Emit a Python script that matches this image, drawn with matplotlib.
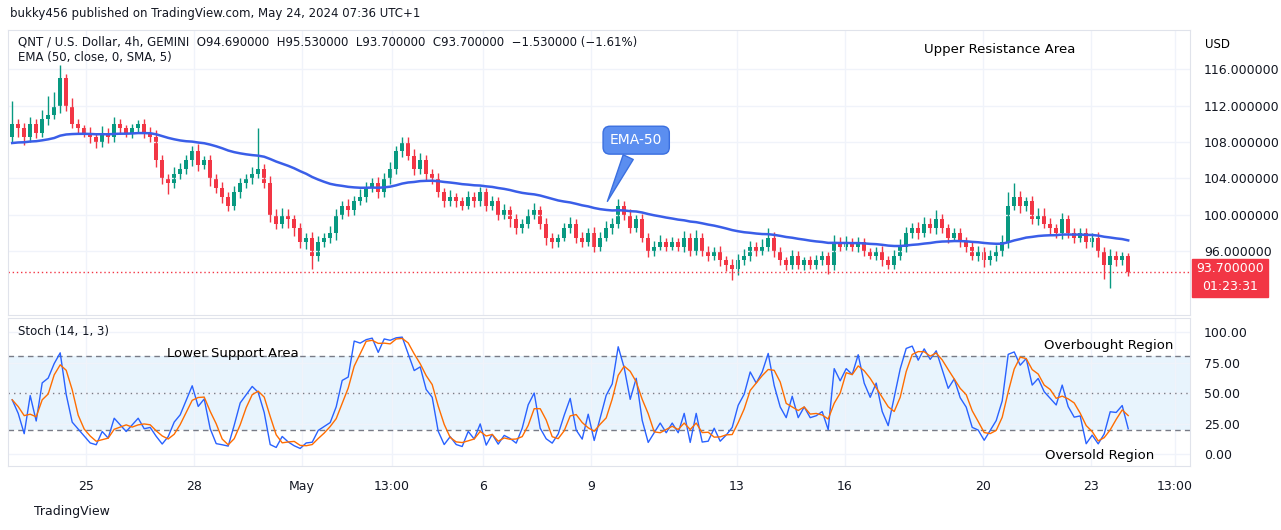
import numpy as np
import pandas as pd
import matplotlib.pyplot as plt

# closes per 4h candle
closes = [110, 109.5, 108.5, 110, 109, 110.5, 111, 112, 115, 112,
          110, 109.5, 109, 108.5, 108, 109, 108.5, 110, 109.5, 109,
          109.5, 110, 109, 108.5, 106, 104, 103.5, 104.5, 105, 106,
          107, 105.5, 106, 104, 103, 102, 101, 102.5, 103.5, 104,
          104.5, 105, 103.5, 100, 99, 100, 99.5, 98.5, 97, 97.5,
          95.5, 97, 97.5, 98, 100, 101, 100.5, 101.5, 102, 103,
          103.5, 102.5, 104, 105, 107, 108, 106.5, 105, 106, 104.5,
          104, 102.5, 101.5, 102, 101.5, 101, 102, 101.5, 102.5, 101,
          101.5, 100, 100.5, 99.5, 98.5, 99, 100, 100.5, 99, 97.5,
          97, 97.5, 98.5, 99, 97.5, 97, 98, 96.5, 97.5, 98.5,
          99, 101, 100, 98.5, 99.5, 97.5, 96, 96.5, 97, 96.5,
          97, 96.5, 97.5, 96, 97.5, 96, 95.5, 96, 95, 94.5,
          94, 95, 95.5, 96.5, 96, 96.5, 97.5, 96, 95, 94.5,
          95.5, 94.5, 95, 94.5, 95, 95.5, 94.5, 97, 96.5, 97,
          96.5, 97, 96, 95.5, 96, 95, 94.5, 95.5, 96.5, 98,
          98.5, 98, 99, 98.5, 99.5, 98.5, 97.5, 98, 97, 96.5,
          95.5, 96, 95, 95.5, 96, 97, 101, 102, 101, 101.5,
          99.5, 100, 99, 98.5, 98, 99.5, 98, 97.5, 98, 97,
          97.5, 96, 94.5, 95.5, 95, 95.5, 93.7]
first_open = 108.5
ema_seed = 107.8  # EMA-50 value just before the first visible candle
# wick lengths above max(open, close) and below min(open, close)
upper_wick = [2.5, 0.5, 0.6, 0.8, 0.5, 1.0, 2.0, 1.5, 1.5, 0.5,
              0.8, 0.5, 0.4, 0.6, 0.5, 0.8, 0.5, 0.7, 0.5, 0.4,
              0.5, 0.4, 0.5, 0.6, 0.8, 0.6, 0.5, 0.8, 0.7, 0.6,
              0.6, 0.8, 0.5, 0.6, 0.5, 0.6, 0.5, 0.7, 0.6, 0.5,
              0.8, 4.5, 0.6, 0.8, 0.6, 0.7, 0.6, 0.5, 0.6, 0.5,
              0.6, 0.7, 0.5, 0.8, 0.6, 0.5, 0.7, 0.6, 0.8, 0.6,
              0.5, 0.7, 0.6, 0.8, 0.6, 0.5, 0.6, 0.7, 0.8, 0.6,
              0.5, 0.6, 0.5, 0.7, 0.4, 0.5, 0.6, 0.5, 0.6, 0.5,
              0.6, 0.5, 0.7, 0.5, 0.6, 0.5, 0.6, 0.8, 0.5, 0.6,
              0.5, 0.4, 0.6, 0.8, 0.5, 0.6, 0.5, 0.7, 0.6, 0.8,
              0.6, 0.7, 0.5, 0.6, 0.5, 0.6, 0.5, 0.6, 0.8, 0.5,
              0.6, 0.5, 0.7, 0.5, 0.8, 0.5, 0.6, 0.5, 0.6, 0.5,
              0.6, 0.7, 0.8, 0.6, 0.5, 0.8, 1.0, 0.6, 0.5, 0.4,
              0.6, 0.5, 0.4, 0.5, 0.6, 0.5, 0.4, 0.8, 0.6, 0.7,
              0.5, 0.6, 0.5, 0.4, 0.5, 0.6, 0.5, 0.6, 0.8, 0.7,
              0.6, 0.7, 0.8, 0.6, 1.0, 0.6, 0.5, 0.6, 0.5, 0.6,
              0.5, 0.6, 0.5, 0.6, 0.7, 0.8, 1.5, 1.5, 0.6, 0.5,
              0.6, 0.7, 0.8, 0.6, 0.5, 0.7, 0.5, 0.6, 0.5, 0.6,
              0.5, 0.6, 0.5, 0.8, 0.5, 0.4, 0.3]
lower_wick = [0.5, 1.0, 0.8, 0.5, 0.6, 0.5, 0.6, 0.5, 0.8, 0.6,
              0.5, 0.6, 0.5, 0.6, 0.7, 0.5, 0.6, 0.5, 0.6, 0.5,
              0.6, 0.5, 0.6, 0.5, 0.8, 0.6, 1.2, 0.5, 0.6, 0.5,
              0.6, 0.7, 0.5, 0.8, 0.6, 0.7, 0.6, 0.5, 0.6, 0.5,
              0.6, 0.5, 0.6, 0.8, 0.6, 0.5, 1.0, 0.8, 0.6, 0.7,
              1.5, 0.6, 0.5, 0.6, 0.8, 0.5, 0.6, 0.5, 0.4, 0.6,
              0.5, 0.7, 0.5, 0.6, 0.5, 0.6, 0.5, 0.6, 0.5, 0.8,
              0.6, 0.5, 0.6, 0.5, 0.6, 0.5, 0.4, 0.6, 0.5, 0.6,
              0.5, 0.6, 0.5, 0.8, 0.6, 0.5, 0.4, 0.5, 0.6, 0.8,
              0.6, 0.5, 0.4, 0.5, 0.6, 0.5, 0.4, 0.6, 0.5, 0.4,
              0.6, 0.5, 0.6, 0.5, 0.4, 0.5, 0.6, 0.5, 0.4, 0.5,
              0.4, 0.5, 0.6, 0.5, 0.4, 0.5, 0.6, 0.5, 0.6, 0.7,
              1.2, 0.6, 0.5, 0.6, 0.5, 0.4, 0.5, 0.6, 0.5, 0.6,
              0.4, 0.5, 0.6, 0.5, 0.4, 0.5, 1.0, 0.6, 0.5, 0.4,
              0.5, 0.6, 0.5, 0.4, 0.5, 0.6, 0.5, 0.4, 0.5, 0.6,
              0.5, 0.6, 0.4, 0.5, 0.6, 0.5, 0.6, 0.4, 0.5, 0.6,
              0.5, 0.6, 0.7, 0.5, 0.6, 0.5, 0.6, 0.5, 0.8, 0.6,
              0.5, 0.6, 0.5, 0.6, 0.5, 0.6, 0.5, 0.6, 0.5, 0.6,
              0.5, 0.6, 1.5, 2.5, 0.6, 0.5, 0.4]

xtick_pos = [12.3, 30.3, 48.3, 63.3, 78.5, 96.5, 120.8, 138.8, 161.8, 179.8, 193.8]
xtick_labels = ["25", "28", "May", "13:00", "6", "9", "13", "16", "20", "23", "13:00"]
price_ticks = [96, 100, 104, 108, 112, 116]
stoch_ticks = [0, 25, 50, 75, 100]

UP, DOWN = "#089981", "#f23645"
close = pd.Series(closes)
opens = close.shift(1).fillna(first_open)
tops = np.maximum(opens, close)
bots = np.minimum(opens, close)
highs = tops + np.array(upper_wick)
lows = bots - np.array(lower_wick)
# EMA-50 continuing from the seed value
ema = pd.concat([pd.Series([ema_seed]), close]).ewm(span=50, adjust=False).mean().iloc[1:].values
hh = highs.rolling(14, min_periods=1).max()
ll = lows.rolling(14, min_periods=1).min()
k = 100 * (close - ll) / (hh - ll)
d = k.rolling(3, min_periods=1).mean()
idx = np.arange(len(closes))

fig = plt.figure(figsize=(12.81, 5.30), dpi=100)
W, H = 1281, 530
ax = fig.add_axes([8 / W, 1 - 315 / H, 1182 / W, 285 / H])
ax2 = fig.add_axes([8 / W, 1 - 466 / H, 1182 / W, 148 / H])

cols = [UP if c >= o else DOWN for o, c in zip(opens, close)]
ax.vlines(idx, lows, highs, colors=cols, lw=1)
ax.bar(idx, np.maximum(tops - bots, 0.15), bottom=bots, width=0.7, color=cols)
ax.plot(idx, ema, color="#3a5ee8", lw=1.8)
ax.axhline(93.7, color=DOWN, ls=(0, (1, 2)), lw=1)
ax.set_xlim(-0.7, 196.3)
ax.set_ylim(89.0, 120.3)
ax.yaxis.tick_right()
ax.set_yticks(price_ticks)
ax.set_yticklabels([f"{v:.6f}" for v in price_ticks])
ax.set_xticks(xtick_pos)
ax.tick_params(axis="x", labelbottom=False, length=0)

ax2.axhspan(20, 80, color="#2196f3", alpha=0.1, lw=0)
for lvl, st in [(80, (0, (4, 3))), (50, (0, (1, 3))), (20, (0, (4, 3)))]:
    ax2.axhline(lvl, color="#787b86", ls=st, lw=1)
ax2.plot(idx, k, color="#2962ff", lw=1)
ax2.plot(idx, d, color="#ff6d00", lw=1)
ax2.set_xlim(-0.7, 196.3)
ax2.set_ylim(-9.8, 111.5)
ax2.yaxis.tick_right()
ax2.set_yticks(stoch_ticks)
ax2.set_yticklabels([f"{v:.2f}" for v in stoch_ticks])
ax2.set_xticks(xtick_pos)
ax2.set_xticklabels(xtick_labels)

for a in (ax, ax2):
    a.grid(color="#f0f3fa", lw=1)
    a.tick_params(colors="#131722", labelsize=9, length=0, pad=10)
    for s in a.spines.values():
        s.set_color("#e0e3eb")

# text overlays
fig.text(10 / W, 1 - 13 / H, "bukky456 published on TradingView.com, May 24, 2024 07:36 UTC+1",
         fontsize=8.5, color="#131722", va="center")
fig.text(18 / W, 1 - 42 / H, "QNT / U.S. Dollar, 4h, GEMINI  O94.690000  H95.530000  L93.700000  C93.700000  \u22121.530000 (\u22121.61%)",
         fontsize=8.5, color="#131722", va="center")
fig.text(18 / W, 1 - 58 / H, "EMA (50, close, 0, SMA, 5)", fontsize=8.5, color="#131722", va="center")
fig.text(18 / W, 1 - 331 / H, "Stoch (14, 1, 3)", fontsize=8.5, color="#131722", va="center")
fig.text(1000 / W, 1 - 49 / H, "Upper Resistance Area", fontsize=9.5, ha="center", va="center")
fig.text(233 / W, 1 - 353 / H, "Lower Support Area", fontsize=9.5, ha="center", va="center")
fig.text(1109 / W, 1 - 346 / H, "Overbought Region", fontsize=9.5, ha="center", va="center")
fig.text(1100 / W, 1 - 455 / H, "Oversold Region", fontsize=9.5, ha="center", va="center")
fig.text(1205 / W, 1 - 44 / H, "USD", fontsize=8.5, va="center")
fig.text(34 / W, 1 - 512 / H, "TradingView", fontsize=9, color="#131722", va="center")

# EMA-50 callout
ax.annotate("EMA-50", xy=(99, 101.2), xytext=(104, 108.2), color="white", fontsize=10,
            ha="center", va="center",
            bbox=dict(boxstyle="round,pad=0.5", fc="#5b8ef0", ec="#3a6fe0"),
            arrowprops=dict(arrowstyle="wedge,tail_width=0.8", fc="#5b8ef0", ec="#3a6fe0"))

# last price tag
fig.text(1230 / W, 1 - 278 / H, "93.700000\n01:23:31", fontsize=9, color="white", ha="center",
         va="center", bbox=dict(boxstyle="square,pad=0.3", fc=DOWN, ec=DOWN), linespacing=1.5)

fig.savefig("out.png", dpi=100)
